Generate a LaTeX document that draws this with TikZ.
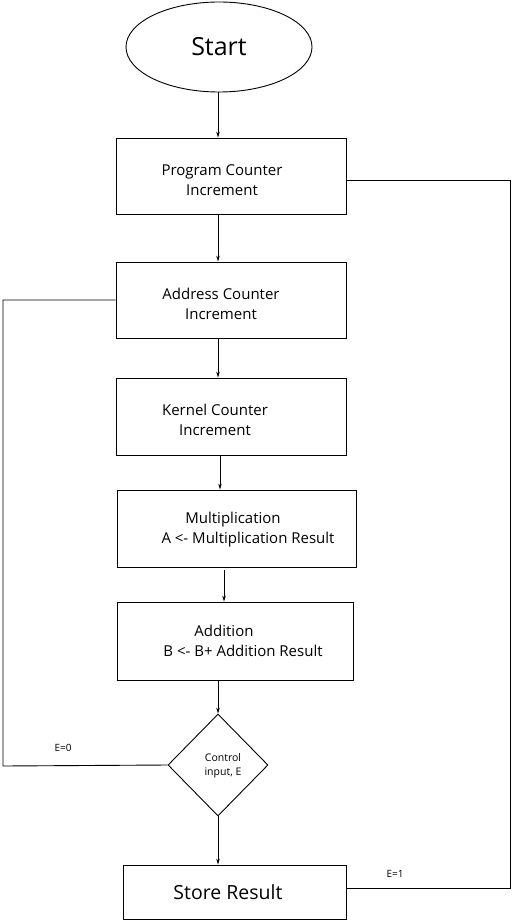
\documentclass[tikz,border=0pt]{standalone}
\usepackage{fontspec}
\setmainfont{Open Sans}
\usetikzlibrary{shapes.geometric,arrows.meta}
\begin{document}
\begin{tikzpicture}[x=1pt,y=-1pt,
  box/.style={draw,line width=0.9pt,minimum width=230pt,minimum height=76pt,inner sep=0pt},
  txt/.style={font=\fontsize{15}{20}\selectfont,align=center},
  arr/.style={-{Stealth[length=6pt,width=3.5pt]},line width=0.6pt},
  fb/.style={line width=0.9pt}]
\useasboundingbox (0,0) rectangle (511,920);
\node[draw,ellipse,line width=0.9pt,minimum width=186pt,minimum height=90pt,inner sep=0pt] (start) at (219,47) {};
\node[font=\fontsize{25}{30}\selectfont] (starttxt) at (219,47) {Start};
\node[box] (pc) at (231,176) {};
\node[txt] (pct) at (222,180) {Program Counter\\Increment};
\node[box] (ac) at (231,300) {};
\node[txt] (act) at (221,304) {Address Counter\\Increment};
\node[box,minimum height=77pt] (kc) at (231,416.5) {};
\node[txt] (kct) at (215,420) {Kernel Counter\\Increment};
\node[box,minimum width=239pt,minimum height=77pt] (mu) at (236.5,528.5) {};
\node[txt] (mut) at (248,530) {\hspace*{-30pt}Multiplication\\A <- Multiplication Result};
\node[box,minimum width=236pt,minimum height=78pt] (ad) at (235,641) {};
\node[txt] (adt) at (243,641) {\hspace*{-38pt}Addition\\B <- B+ Addition Result};
\node[draw,diamond,line width=0.9pt,minimum width=100pt,minimum height=102pt,inner sep=0pt] (ci) at (218,765) {};
\node[font=\fontsize{10.5}{14}\selectfont,align=center] (cit) at (223,766) {Control\\input, E};
\node[draw,line width=0.9pt,minimum width=223pt,minimum height=54pt,inner sep=0pt] (sr) at (234.5,892) {};
\node[font=\fontsize{19.5}{22}\selectfont] (srt) at (228,892) {Store Result};
\draw[arr] (218,92) -- (pc.north -| 218,0);
\draw[arr] (218,214) -- (ac.north -| 218,0);
\draw[arr] (218,338) -- (kc.north -| 218,0);
\draw[arr] (220,455) -- (mu.north -| 220,0);
\draw[arr] (224,570) -- (ad.north -| 224,0);
\draw[arr] (218,680) -- (ci.north);
\draw[arr] (ci.south) -- (sr.north -| 218,0);
\coordinate (c1) at (510,888);
\coordinate (c2) at (510,180);
\draw[fb] (sr.east |- c1) -- (c1) -- (c2) -- (pc.east |- c2);
\coordinate (c3) at (3,766);
\coordinate (c4) at (3,300);
\draw[fb] (ci.west) -- (c3) -- (c4) -- (ac.west);
\node[font=\fontsize{10}{12}\selectfont] (e0) at (63,748) {E=0};
\node[font=\fontsize{10}{12}\selectfont] (e1) at (395,874) {E=1};
\end{tikzpicture}
\end{document}
